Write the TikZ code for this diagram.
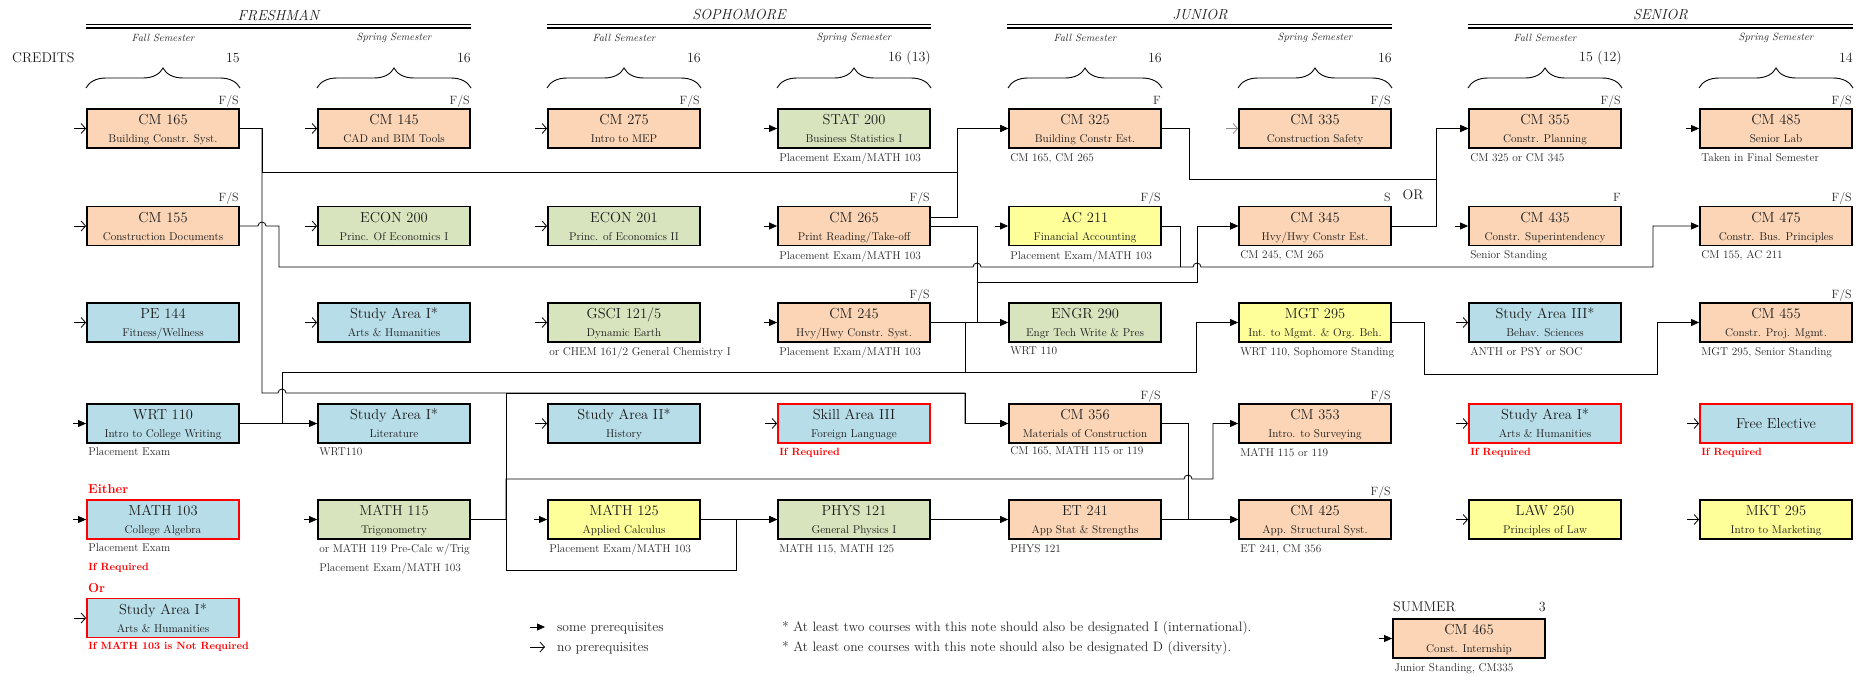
\documentclass[tikz,border=0pt]{standalone}
\usepackage{fontspec}
\usetikzlibrary{arrows.meta,decorations.pathreplacing,calc}
\definecolor{orng}{HTML}{FBD5B5}
\definecolor{grn}{HTML}{D7E4BD}
\definecolor{blu}{HTML}{B7DDE8}
\definecolor{yel}{HTML}{FFFF99}
\definecolor{redb}{HTML}{FF0000}
\definecolor{txt}{HTML}{1A1A1A}
\definecolor{ptxt}{HTML}{262626}
\newcommand{\crs}[2]{{\fontsize{14.5}{18}\selectfont\rule{0pt}{13pt}#1}\\{#2\rule[-3pt]{0pt}{0pt}}}
\newcommand{\yA}{128.5}
\newcommand{\yB}{226}
\newcommand{\yC}{322.5}
\newcommand{\yD}{423.5}
\newcommand{\yE}{519.5}
\newcommand{\yF}{618}
\tikzset{
  box/.style={draw=black, line width=1.8pt, minimum width=152pt, minimum height=39pt,
    inner sep=0pt, align=center, font=\fontsize{11.3}{18}\selectfont, text=txt},
  rbox/.style={box, draw=redb},
  pre/.style={line width=0.8pt, -{Triangle[length=8pt,width=7pt]}},
  nopre/.style={line width=0.8pt, -{Straight Barb[length=4.5pt,width=10pt]}},
  link/.style={line width=0.8pt},
  prq/.style={anchor=north west, inner sep=0pt, font=\fontsize{11.3}{19}\selectfont, text=ptxt, align=left},
  fs/.style={anchor=base east, inner sep=0pt, font=\fontsize{12}{12}\selectfont, text=ptxt},
  req/.style={anchor=north west, inner sep=0pt, font=\fontsize{10.5}{12}\selectfont\bfseries, text=redb},
  yr/.style={font=\fontsize{14.5}{16}\selectfont\itshape, text=txt, inner sep=0pt},
  semlab/.style={font=\fontsize{10.5}{12}\selectfont\itshape, text=ptxt, inner sep=0pt},
  big/.style={font=\fontsize{14}{16}\selectfont, text=txt, inner sep=0pt},
  note/.style={font=\fontsize{13.6}{16}\selectfont, text=ptxt, inner sep=0pt, anchor=west},
  rule/.style={line width=1.4pt},
  brc/.style={decorate, decoration={brace, amplitude=20pt}, line width=0.9pt},
}
\begin{document}
\begin{tikzpicture}[x=1pt,y=-1pt]
\useasboundingbox (0,0) rectangle (1863,680);

% ---------- headers ----------
\node[yr] (yfr) at (278.5,15) {FRESHMAN};
\node[yr] (yso) at (739,15) {SOPHOMORE};
\node[yr] (yju) at (1200,15) {JUNIOR};
\node[yr] (yse) at (1660.5,15) {SENIOR};
\foreach \a/\b in {86/471,547/931,1007/1392,1468/1853}{
  \draw[rule] (\a,24.3) -- (\b,24.3);
  \draw[rule] (\a,27.8) -- (\b,27.8);
}
\foreach \c/\s [count=\i] in {163/Fall,394/Spring,624/Fall,854/Spring,1085/Fall,1315/Spring,1545/Fall,1776/Spring}{
  \node[semlab] (sem\i) at (\c,38) {\s\ Semester};
  \draw[brc] (\c-77,88) -- (\c+77,88);
}
\node[big, anchor=west] (credits) at (12,58) {CREDITS};
\foreach \c/\v [count=\i] in {240/15,471/16,701/16,931/16 (13),1162/16,1392/16,1622/15 (12),1853/14}{
  \node[big, anchor=east] (cr\i) at (\c,58) {\v};
}

% ---------- row A ----------
\node[box,fill=orng] (cm165) at (163,\yA) {\crs{CM 165}{Building Constr. Syst.}};
\node[box,fill=orng] (cm145) at (394,\yA) {\crs{CM 145}{CAD and BIM Tools}};
\node[box,fill=orng] (cm275) at (624,\yA) {\crs{CM 275}{Intro to MEP}};
\node[box,fill=grn]  (stat200) at (854,\yA) {\crs{STAT 200}{Business Statistics I}};
\node[box,fill=orng] (cm325) at (1085,\yA) {\crs{CM 325}{Building Constr Est.}};
\node[box,fill=orng] (cm335) at (1315,\yA) {\crs{CM 335}{Construction Safety}};
\node[box,fill=orng] (cm355) at (1545,\yA) {\crs{CM 355}{Constr. Planning}};
\node[box,fill=orng] (cm485) at (1776,\yA) {\crs{CM 485}{Senior Lab}};

% ---------- row B ----------
\node[box,fill=orng] (cm155) at (163,\yB) {\crs{CM 155}{Construction Documents}};
\node[box,fill=grn]  (econ200) at (394,\yB) {\crs{ECON 200}{Princ. Of Economics I}};
\node[box,fill=grn]  (econ201) at (624,\yB) {\crs{ECON 201}{Princ. of Economics II}};
\node[box,fill=orng] (cm265) at (854,\yB) {\crs{CM 265}{Print Reading/Take-off}};
\node[box,fill=yel]  (ac211) at (1085,\yB) {\crs{AC 211}{Financial Accounting}};
\node[box,fill=orng] (cm345) at (1315,\yB) {\crs{CM 345}{Hvy/Hwy Constr Est.}};
\node[box,fill=orng] (cm435) at (1545,\yB) {\crs{CM 435}{Constr. Superintendency}};
\node[box,fill=orng] (cm475) at (1776,\yB) {\crs{CM 475}{Constr. Bus. Principles}};

% ---------- row C ----------
\node[box,fill=blu]  (pe144) at (163,\yC) {\crs{PE 144}{Fitness/Wellness}};
\node[box,fill=blu]  (sa1ah) at (394,\yC) {\crs{Study Area I*}{Arts \& Humanities}};
\node[box,fill=grn]  (gsci) at (624,\yC) {\crs{GSCI 121/5}{Dynamic Earth}};
\node[box,fill=orng] (cm245) at (854,\yC) {\crs{CM 245}{Hvy/Hwy Constr. Syst.}};
\node[box,fill=grn]  (engr290) at (1085,\yC) {\crs{ENGR 290}{Engr Tech Write \& Pres}};
\node[box,fill=yel]  (mgt295) at (1315,\yC) {\crs{MGT 295}{Int. to Mgmt. \& Org. Beh.}};
\node[box,fill=blu]  (sa3) at (1545,\yC) {\crs{Study Area III*}{Behav. Sciences}};
\node[box,fill=orng] (cm455) at (1776,\yC) {\crs{CM 455}{Constr. Proj. Mgmt.}};

% ---------- row D ----------
\node[box,fill=blu]  (wrt110) at (163,\yD) {\crs{WRT 110}{Intro to College Writing}};
\node[box,fill=blu]  (sa1lit) at (394,\yD) {\crs{Study Area I*}{Literature}};
\node[box,fill=blu]  (sa2) at (624,\yD) {\crs{Study Area II*}{History}};
\node[rbox,fill=blu] (skill3) at (854,\yD) {\crs{Skill Area III}{Foreign Language}};
\node[box,fill=orng] (cm356) at (1085,\yD) {\crs{CM 356}{Materials of Construction}};
\node[box,fill=orng] (cm353) at (1315,\yD) {\crs{CM 353}{Intro. to Surveying}};
\node[rbox,fill=blu] (sa1r) at (1545,\yD) {\crs{Study Area I*}{Arts \& Humanities}};
\node[rbox,fill=blu,font=\fontsize{14.5}{18}\selectfont] (free) at (1776,\yD) {Free Elective};

% ---------- row E ----------
\node[rbox,fill=blu] (math103) at (163,\yE) {\crs{MATH 103}{College Algebra}};
\node[box,fill=grn]  (math115) at (394,\yE) {\crs{MATH 115}{Trigonometry}};
\node[box,fill=yel]  (math125) at (624,\yE) {\crs{MATH 125}{Applied Calculus}};
\node[box,fill=grn]  (phys121) at (854,\yE) {\crs{PHYS 121}{General Physics I}};
\node[box,fill=orng] (et241) at (1085,\yE) {\crs{ET 241}{App Stat \& Strengths}};
\node[box,fill=orng] (cm425) at (1315,\yE) {\crs{CM 425}{App. Structural Syst.}};
\node[box,fill=yel]  (law250) at (1545,\yE) {\crs{LAW 250}{Principles of Law}};
\node[box,fill=yel]  (mkt295) at (1776,\yE) {\crs{MKT 295}{Intro to Marketing}};

% ---------- row F ----------
\node[rbox,fill=blu] (sa1alt) at (163,\yF) {\crs{Study Area I*}{Arts \& Humanities}};
\node[box,fill=orng] (cm465) at (1469,638.5) {\crs{CM 465}{Const. Internship}};

% ---------- offering labels ----------
\foreach \n/\t in {cm165/F\slash S,cm145/F\slash S,cm275/F\slash S,cm325/F,cm335/F\slash S,cm355/F\slash S,cm485/F\slash S,
  cm155/F\slash S,cm265/F\slash S,ac211/F\slash S,cm345/S,cm435/F,cm475/F\slash S,
  cm245/F\slash S,cm455/F\slash S,cm356/F\slash S,cm353/F\slash S,cm425/F\slash S}{
  \node[fs] (\n fs) at ($(\n.north east)+(-1,-4)$) {\t};
}

% ---------- prerequisite notes ----------
\node[prq] (stat200p) at ($(stat200.south west)+(2,4)$) {Placement Exam/MATH 103};
\node[prq] (cm325p) at ($(cm325.south west)+(2,4)$) {CM 165, CM 265};
\node[prq] (cm355p) at ($(cm355.south west)+(2,4)$) {CM 325 or CM 345};
\node[prq] (cm485p) at ($(cm485.south west)+(2,4)$) {Taken in Final Semester};
\node[prq] (cm265p) at ($(cm265.south west)+(2,4)$) {Placement Exam/MATH 103};
\node[prq] (ac211p) at ($(ac211.south west)+(2,4)$) {Placement Exam/MATH 103};
\node[prq] (cm345p) at ($(cm345.south west)+(2,4)$) {CM 245, CM 265};
\node[prq] (cm435p) at ($(cm435.south west)+(2,4)$) {Senior Standing};
\node[prq] (cm475p) at ($(cm475.south west)+(2,4)$) {CM 155, AC 211};
\node[prq] (gscip) at ($(gsci.south west)+(2,4)$) {or CHEM 161/2 General Chemistry I};
\node[prq] (cm245p) at ($(cm245.south west)+(2,4)$) {Placement Exam/MATH 103};
\node[prq] (engr290p) at ($(engr290.south west)+(2,4)$) {WRT 110};
\node[prq] (mgt295p) at ($(mgt295.south west)+(2,4)$) {WRT 110, Sophomore Standing};
\node[prq] (sa3p) at ($(sa3.south west)+(2,4)$) {ANTH or PSY or SOC};
\node[prq] (cm455p) at ($(cm455.south west)+(2,4)$) {MGT 295, Senior Standing};
\node[prq] (wrt110p) at ($(wrt110.south west)+(2,4)$) {Placement Exam};
\node[prq] (sa1litp) at ($(sa1lit.south west)+(2,4)$) {WRT110};
\node[prq] (cm356p) at ($(cm356.south west)+(2,2)$) {CM 165, MATH 115 or 119};
\node[prq] (cm353p) at ($(cm353.south west)+(2,4)$) {MATH 115 or 119};
\node[prq] (math103p) at ($(math103.south west)+(2,4)$) {Placement Exam};
\node[prq] (math115p) at ($(math115.south west)+(2,4)$) {or MATH 119 Pre-Calc w/Trig\\Placement Exam/MATH 103};
\node[prq] (math125p) at ($(math125.south west)+(2,4)$) {Placement Exam/MATH 103};
\node[prq] (phys121p) at ($(phys121.south west)+(2,4)$) {MATH 115, MATH 125};
\node[prq] (et241p) at ($(et241.south west)+(2,4)$) {PHYS 121};
\node[prq] (cm425p) at ($(cm425.south west)+(2,4)$) {ET 241, CM 356};
\node[prq] (cm465p) at ($(cm465.south west)+(2,4)$) {Junior Standing, CM335};

% red notes
\node[req] (skill3r) at ($(skill3.south west)+(2,4)$) {If Required};
\node[req] (sa1rr) at ($(sa1r.south west)+(2,4)$) {If Required};
\node[req] (freer) at ($(free.south west)+(2,4)$) {If Required};
\node[req] (math103r) at ($(math103.south west)+(2,23)$) {If Required};
\node[req] (sa1altr) at ($(sa1alt.south west)+(2,4)$) {If MATH 103 is Not Required};
\node[anchor=west, inner sep=0pt, font=\fontsize{13}{14}\selectfont\bfseries, text=redb] (either) at (88,489) {Either};
\node[anchor=west, inner sep=0pt, font=\fontsize{13}{14}\selectfont\bfseries, text=redb] (orlab) at (88,588) {Or};
\node[big] (orsplit) at (1413,195) {OR};

% ---------- entry arrows ----------
\foreach \n in {cm165,cm145,cm275,cm155,econ200,econ201,pe144,sa1ah,gsci,sa3,sa2,skill3,sa1r,free,law250,mkt295,sa1alt}{
  \draw[nopre] ($(\n.west)+(-12,0)$) -- (\n.west);
}
\draw[nopre, draw=black!45] ($(cm335.west)+(-12,0)$) -- (cm335.west);
\foreach \n in {stat200,cm485,cm265,ac211,cm435,cm245,wrt110,math103,math115,math125,cm465}{
  \draw[pre] ($(\n.west)+(-13,0)$) -- (\n.west);
}

% ---------- connectors ----------
% CM165 -> CM325
\draw[pre] (cm165.east) -| (262,172) -- (957,172) |- (cm325.west);
% CM265 -> CM325
\draw[pre] ($(cm265.east)+(0,-9)$) -| (957,\yA) -- (cm325.west);
% CM165 -> CM356 (hop over WRT110 riser)
\draw[pre] (cm165.east) -| (262,393) -- (278,393) arc[start angle=180,end angle=360,radius=4] -- (965,393) |- (cm356.west);
% CM155 -> CM475
\draw[pre] (cm155.east) -- (258,\yB) arc[start angle=180,end angle=360,radius=4] -- (279,\yB) -- (279,267)
  -- (973,267) arc[start angle=180,end angle=360,radius=4]
  -- (1193,267) arc[start angle=180,end angle=360,radius=4] -- (1653,267) |- (cm475.west);
% AC211 -> CM475
\draw[link] (ac211.east) -| (1180,267);
% CM265, CM245 -> CM345
\draw[pre] (cm265.east) -| (977,282) -| (1197,\yB) -- (cm345.west);
\draw[pre] (cm245.east) -| (977,282) -| (1197,\yB) -- (cm345.west);
% CM325, CM345 -> CM355
\draw[pre] (cm325.east) -| (1189,179) -| (1436,\yA) -- (cm355.west);
\draw[pre] (cm345.east) -| (1436,\yA) -- (cm355.west);
% WRT110 -> Study Area I, ENGR290, MGT295
\draw[pre] (wrt110.east) -- (sa1lit.west);
\draw[pre] (wrt110.east) -| (282,372) -| (965,\yC) -- (engr290.west);
\draw[pre] (wrt110.east) -| (282,372) -| (1196,\yC) -- (mgt295.west);
% MGT295 -> CM455
\draw[pre] (mgt295.east) -| (1424,374) -| (1657,\yC) -- (cm455.west);
% MATH115 -> CM356, CM353, PHYS121
\draw[pre] (math115.east) -| (506,393) -- (965,393) |- (cm356.west);
\draw[pre] (math115.east) -| (506,479) -- (1184,479) arc[start angle=180,end angle=360,radius=4] -- (1213,479) |- (cm353.west);
\draw[pre] (math115.east) -| (506,570) -| (736,\yE) -- (phys121.west);
% MATH125 -> PHYS121 -> ET241 -> CM425
\draw[pre] (math125.east) -- (phys121.west);
\draw[pre] (phys121.east) -- (et241.west);
\draw[pre] (et241.east) -- (cm425.west);
\draw[pre] (cm356.east) -| (1188,\yE) -- (cm425.west);

% ---------- legend ----------
\coordinate (lgA1) at (530,627);
\coordinate (lgA2) at (545,627);
\coordinate (lgB1) at (530,647);
\coordinate (lgB2) at (545,647);
\draw[pre] (lgA1) -- (lgA2);
\draw[nopre] (lgB1) -- (lgB2);
\node[note] (lgA) at (557,628) {some prerequisites};
\node[note] (lgB) at (557,648) {no prerequisites};
\node[note] (noteA) at (782,628) {* At least two courses with this note should also be designated I (international).};
\node[note] (noteB) at (782,648) {* At least one courses with this note should also be designated D (diversity).};

% ---------- summer ----------
\node[big, anchor=west] (summer) at (1393,607) {SUMMER};
\node[big, anchor=east] (summercr) at (1546,607) {3};
\end{tikzpicture}
\end{document}
